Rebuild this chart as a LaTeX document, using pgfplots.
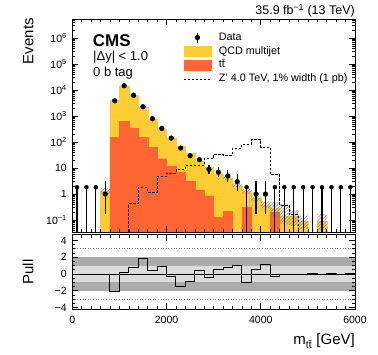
\documentclass[border=0pt]{standalone}
\usepackage{fontspec}
\setmainfont{Liberation Sans}
\usepackage{pgfplots}
\pgfplotsset{compat=1.18}
\usepackage{pgfplotstable}
\usetikzlibrary{patterns.meta}

\definecolor{qcdcol}{HTML}{FFCC33}
\definecolor{ttcol}{HTML}{FF6633}
\definecolor{banddark}{HTML}{ABABAB}
\definecolor{bandlight}{HTML}{DCDCDC}

% stacked backgrounds per 200 GeV bin (low edge)
\pgfplotstableread{
lo qcd tt
0 0 0
200 0 0
400 0 0
600 1.3 0
800 3845 155
1000 14070 630
1200 5905 345
1400 2050 150
1600 718 62
1800 297 23
2000 133 12
2200 63 7
2400 32.9 3.1
2600 17.54 1.46
2800 9.64 0.86
3000 5.87 0.13
3200 3.78 0.22
3400 2.1 0
3600 0.99 0.31
3800 0.7 0
4000 0.39 0
4200 0.08 0.2
4400 0.14 0
4600 0.14 0
4800 0.09 0
5000 0 0
5200 0.09 0
5400 0 0
5600 0 0
5800 0 0
6000 0 0
}\hist

% Z' 4 TeV signal
\pgfplotstableread{
lo zp
1000 0
1200 0.42
1400 1.8
1600 1.2
1800 4.8
2000 6.4
2200 8.6
2400 12.7
2600 12.7
2800 22.7
3000 34.5
3200 32
3400 58
3600 83
3800 122
4000 63
4200 5.5
4400 0.38
4600 0.16
4800 0
5000 0
}\zprime

\pgfplotstableread{
x n em ep
700 1 0.83 2.30
900 3870 62 62
1100 14700 121 121
1300 6300 79 79
1500 2290 48 48
1700 790 28 28
1900 335 18 18
2100 142 12 12
2300 59 7.7 8.7
2500 30 5.45 6.52
2700 21 4.55 5.62
2900 9 2.94 4.11
3100 7 2.58 3.77
3300 5 2.16 3.38
3500 3 1.63 2.92
3900 1 0.83 2.30
4100 1 0.83 2.30
}\data

\pgfplotstableread{
x n em ep
100 1.84 1.82 0
300 1.84 1.82 0
500 1.84 1.82 0
3700 1.84 1.82 0
4300 1.84 1.82 0
4500 1.84 1.82 0
4700 1.84 1.82 0
4900 1.84 1.82 0
5100 1.84 1.82 0
5300 1.84 1.82 0
5500 1.84 1.82 0
5700 1.84 1.82 0
5900 1.84 1.82 0
}\zerodata

\pgfplotstableread{
lo pull
600 -0.08
800 -2.1
1000 0.15
1200 0.75
1400 1.8
1600 0.36
1800 0.92
2000 -0.24
2200 -1.5
2400 -0.95
2600 0.4
2800 -0.4
3000 0.54
3200 0.8
3400 1.03
3600 -1.07
3800 0.56
4000 1.15
4200 -0.28
4400 -0.08
4600 -0.12
4800 -0.05
5000 0
5200 -0.08
5400 0
5600 -0.02
5800 0
6000 0
}\pulls

\pgfplotsset{
  cms/.style={scale only axis, width=282.7pt, xmin=0, xmax=6000,
    axis line style={line width=0.8pt}, tick style={black, line width=0.6pt},
    major tick length=6pt, minor tick length=3pt, tick align=inside,
    xtick={0,2000,4000,6000}, minor x tick num=9, scaled x ticks=false,
    tick label style={font=\fontsize{10.5}{12}\selectfont},
    yticklabel style={xshift=-2pt}, axis on top},
  dataerr/.style={black, error bars/.cd, y dir=both, y explicit,
    error bar style={line width=1.2pt}, error mark=none, /pgfplots/.cd},
  hatch/.style={pattern={Lines[angle=45,distance=2.2pt,line width=0.5pt]},
    pattern color=gray, draw=none, forget plot},
}

\begin{document}
\begin{tikzpicture}
\path[use as bounding box] (-72.3pt,-46pt) rectangle (305.7pt,309pt);

\begin{axis}[cms, name=pull, at={(0pt,0pt)}, anchor=south west, height=74.3pt,
  ymin=-4.17, ymax=4.68, ytick={-4,-2,0,2,4}, yticklabels={−4,−2,0,2,4},
  minor y tick num=3, xticklabels={0,2000,4000,6000},
  xticklabel style={yshift=-4pt}]
\addplot[draw=none, fill=banddark] coordinates {(0,-2) (6000,-2) (6000,2) (0,2)} -- cycle;
\addplot[draw=none, fill=bandlight] coordinates {(0,-1) (6000,-1) (6000,1) (0,1)} -- cycle;
\addplot[gray, dotted, line width=0.6pt] coordinates {(0,3) (6000,3)};
\addplot[gray, dotted, line width=0.6pt] coordinates {(0,-3) (6000,-3)};
\addplot[black, line width=0.5pt] coordinates {(0,0) (6000,0)};
\addplot[const plot, black, line width=1pt] table[x=lo, y=pull] \pulls;
\end{axis}

\begin{axis}[cms, name=main, at={(0pt,76.7pt)}, anchor=south west, height=213.3pt,
  ymode=log, log origin=infty, ymin=0.034, ymax=5.4e6,
  ytick={0.1,1,10,100,1000,10000,100000,1000000},
  yticklabels={10\textsuperscript{−1},1,10,10\textsuperscript{2},10\textsuperscript{3},10\textsuperscript{4},10\textsuperscript{5},10\textsuperscript{6}},
  minor ytick={0.04,0.05,0.06,0.07,0.08,0.09,0.2,0.3,0.4,0.5,0.6,0.7,0.8,0.9,
    2,3,4,5,6,7,8,9,20,30,40,50,60,70,80,90,200,300,400,500,600,700,800,900,
    2000,3000,4000,5000,6000,7000,8000,9000,20000,30000,40000,50000,60000,70000,80000,90000,
    200000,300000,400000,500000,600000,700000,800000,900000,2000000,3000000,4000000,5000000},
  xticklabels={},
  legend style={at={(rel axis cs:0.3926,0.946)}, anchor=north west, draw=none, fill=none,
    inner sep=0pt, row sep=0pt, font=\fontsize{10.8}{12}\selectfont,
    nodes={inner sep=1.5pt, text height=8pt, text depth=2.8pt},
    /tikz/every odd column/.append style={column sep=6pt}},
  legend cell align=left]
\addplot[ybar interval, fill=qcdcol, draw=qcdcol, line width=0.3pt, forget plot]
  table[x=lo, y expr={max(\thisrow{qcd}+\thisrow{tt},1e-2)}] \hist;
\addplot[ybar interval, fill=ttcol, draw=ttcol, line width=0.3pt, forget plot]
  table[x=lo, y expr={max(\thisrow{tt},1e-2)}] \hist;
% background uncertainty (hatched)
\addplot[hatch] coordinates {(600,1.05) (800,1.05) (800,1.6) (600,1.6)} -- cycle;
\addplot[hatch] coordinates {(3200,4.5) (3400,4.5) (3400,2.6) (3600,2.6) (3600,1.6) (3800,1.6)
  (3800,0.9) (4000,0.9) (4000,0.52) (4200,0.52) (4200,0.5) (4400,0.5) (4400,0.4) (4600,0.4)
  (4600,0.24) (4800,0.24) (4800,0.15) (5000,0.15) (5000,0.045) (4800,0.045) (4800,0.06)
  (4600,0.06) (4600,0.07) (4400,0.07) (4400,0.13) (4200,0.13) (4200,0.28) (4000,0.28)
  (4000,0.55) (3800,0.55) (3800,1.05) (3600,1.05) (3600,1.8) (3400,1.8) (3400,3.6) (3200,3.6)} -- cycle;
\addplot[hatch] coordinates {(5200,0.045) (5400,0.045) (5400,0.16) (5200,0.16)} -- cycle;
\addplot[const plot, black, line width=0.9pt, dash pattern=on 2.5pt off 1.5pt, forget plot]
  table[x=lo, y expr={max(\thisrow{zp},1e-2)}] \zprime;
\addplot[forget plot, only marks, mark=*, mark size=2.4pt, dataerr]
  table[x=x, y=n, y error plus=ep, y error minus=em] \data;
\addplot[forget plot, only marks, mark=none, dataerr]
  table[x=x, y=n, y error plus=ep, y error minus=em] \zerodata;

\addlegendimage{legend image code/.code={
  \draw[black, line width=1.2pt] (13.5pt,-5pt) -- (13.5pt,5pt);
  \fill[black] (13.5pt,0pt) circle (2.4pt);}}
\addlegendentry{Data}
\addlegendimage{legend image code/.code={\fill[qcdcol] (0pt,-5pt) rectangle (27pt,5pt);}}
\addlegendentry{QCD multijet}
\addlegendimage{legend image code/.code={\fill[ttcol] (0pt,-5pt) rectangle (27pt,5pt);}}
\addlegendentry{t\=t}
\addlegendimage{legend image code/.code={
  \draw[black, line width=0.9pt, dash pattern=on 2.5pt off 1.5pt] (0pt,0pt) -- (27pt,0pt);}}
\addlegendentry{Z' 4.0 TeV, 1\% width (1 pb)}
\end{axis}

\node[anchor=base east, inner sep=0pt, font=\fontsize{12.5}{14}\selectfont] at (282.7pt,294pt) {35.9 fb\textsuperscript{−1} (13 TeV)};
\node[anchor=base west, inner sep=0pt, font=\fontsize{17}{20}\selectfont\bfseries] at (20.4pt,262.3pt) {CMS};
\node[anchor=base west, inner sep=0pt, font=\fontsize{13}{15}\selectfont] at (20.7pt,248.3pt) {|Δy| < 1.0};
\node[anchor=base west, inner sep=0pt, font=\fontsize{13}{15}\selectfont] at (20.7pt,232pt) {0 b tag};
\node[rotate=90, anchor=base east, inner sep=0pt, font=\fontsize{15}{17}\selectfont] at (-39pt,291pt) {Events};
\node[rotate=90, anchor=base, inner sep=0pt, font=\fontsize{15}{17}\selectfont] at (-39pt,37pt) {Pull};
\node[anchor=base east, inner sep=0pt, font=\fontsize{15}{17}\selectfont] at (282.7pt,-36pt) {m\textsubscript{t\=t} [GeV]};
\end{tikzpicture}
\end{document}
